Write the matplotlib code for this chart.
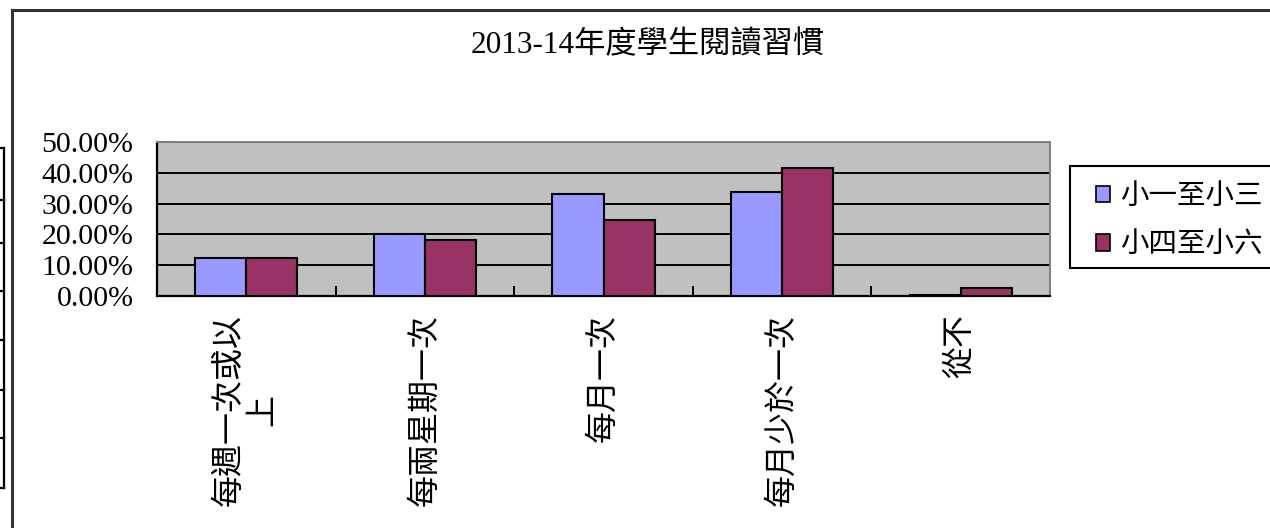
import matplotlib

matplotlib.use("Agg")
import matplotlib.pyplot as plt
import numpy as np
from matplotlib.lines import Line2D
from matplotlib.patches import Patch, Rectangle
from matplotlib.ticker import FuncFormatter

# data (percent)
categories = ["每週一次或以\n上", "每兩星期一次", "每月一次", "每月少於一次", "從不"]
series_names = ["小一至小三", "小四至小六"]
junior = [12.4, 20.1, 33.1, 33.8, 0.4]
senior = [12.4, 18.2, 24.7, 41.6, 2.7]
title = "2013-14年度學生閱讀習慣"

FONT = ["Liberation Serif", "Noto Sans CJK TC", "DejaVu Sans"]
plt.rcParams["font.family"] = FONT

W, H = 1270, 528
fig = plt.figure(figsize=(W / 100, H / 100), dpi=100)
fig.patch.set_facecolor("white")


def fx(px):
    return px / W


def fy(py):
    return 1 - py / H


# chart frame and the spreadsheet cells peeking in on the left
fig.add_artist(Line2D([fx(12), fx(12)], [fy(10), 0], color="#333333", lw=2.2))
fig.add_artist(Line2D([fx(12), 1], [fy(10), fy(10)], color="#333333", lw=2.2))
fig.add_artist(Line2D([fx(4), fx(4)], [fy(148), fy(488)], color="black", lw=1.6))
for y in [148, 200, 243, 291, 340, 390, 438, 488]:
    fig.add_artist(Line2D([0, fx(4)], [fy(y), fy(y)], color="black", lw=1.6))

ax = fig.add_axes([fx(157), fy(296), fx(1050) - fx(157), fy(142) - fy(296)])
ax.set_facecolor("#C0C0C0")

x = np.arange(len(categories))
bw = 0.286
ax.bar(x - bw / 2, np.array(junior) / 100, bw, color="#9999FF", edgecolor="black", lw=1.5, zorder=3)
ax.bar(x + bw / 2, np.array(senior) / 100, bw, color="#993366", edgecolor="black", lw=1.5, zorder=3)

ax.set_xlim(-0.5, len(categories) - 0.5)
ax.set_ylim(0, 0.5)
ax.set_yticks(np.arange(0, 0.51, 0.1))
ax.yaxis.set_major_formatter(FuncFormatter(lambda v, _: f"{v * 100:.2f}%"))
ax.grid(axis="y", color="black", lw=1.4, zorder=1)
ax.tick_params(axis="y", direction="in", length=9, width=1.4, pad=17, labelsize=21.5)

ax.set_xticks(x)
ax.set_xticklabels(categories, rotation=90, ha="center", va="top", multialignment="center", fontsize=23)
ax.set_xticks(np.arange(-0.5, len(categories)), minor=True)
ax.tick_params(axis="x", which="major", length=0, pad=13)
ax.tick_params(axis="x", which="minor", direction="in", length=7, width=1.4)

for side in ["left", "bottom"]:
    ax.spines[side].set_color("black")
    ax.spines[side].set_linewidth(1.6)
for side in ["top", "right"]:
    ax.spines[side].set_color("#808080")
    ax.spines[side].set_linewidth(1.4)

fig.text(fx(648), fy(45), title, ha="center", va="center", fontsize=22.5)

# legend box runs off the right edge of the picture
fig.add_artist(Rectangle((fx(1070), fy(268)), fx(240), fy(166) - fy(268),
                         transform=fig.transFigure, facecolor="white",
                         edgecolor="black", lw=1.5))
handles = [
    Patch(facecolor="#9999FF", edgecolor="black", lw=1.2),
    Patch(facecolor="#993366", edgecolor="black", lw=1.2),
]
leg = fig.legend(
    handles,
    series_names,
    loc="upper left",
    bbox_to_anchor=(fx(1096), fy(184)),
    bbox_transform=fig.transFigure,
    fontsize=20.5,
    frameon=False,
    handlelength=0.5,
    handleheight=0.5,
    handletextpad=0.35,
    labelspacing=0.8,
    borderpad=0,
    borderaxespad=0,
)

fig.savefig("out.png", dpi=100, facecolor="white")
